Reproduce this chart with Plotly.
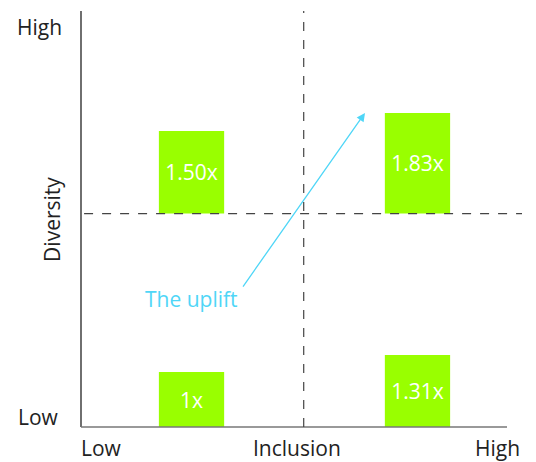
import plotly.graph_objects as go

# Quadrant bars: inclusion position (0-1), diversity base, uplift multiple
bar_x = [0.2506, 0.763, 0.2506, 0.763]
bar_base = [3.88, 3.88, 0.0, 0.0]
bar_value = [1.50, 1.83, 1.00, 1.31]
bar_labels = ["1.50x", "1.83x", "1x", "1.31x"]

y_tick_labels = ["Low", "High"]
x_tick_labels = ["Low", "Inclusion", "High"]

GREEN = "#99FF00"
CYAN = "#4FD6F7"
FONT = "Open Sans"
TXT = dict(size=21, family=FONT, color="#222222")

fig = go.Figure()
fig.add_trace(go.Bar(
    x=bar_x, y=bar_value, base=bar_base, width=0.148,
    marker=dict(color=GREEN, line=dict(width=0)),
    text=bar_labels, textposition="inside", insidetextanchor="middle",
    constraintext="none",
    textfont=dict(color="white", size=21, family=FONT),
    hoverinfo="skip", showlegend=False,
))

shapes = [
    # axis lines
    dict(type="line", xref="paper", yref="paper", x0=0, x1=0, y0=0, y1=1,
         line=dict(color="#222222", width=1.3)),
    dict(type="line", xref="paper", yref="paper", x0=0, x1=0.966, y0=0, y1=0,
         line=dict(color="#777777", width=1.3)),
    # quadrant dividers
    dict(type="line", xref="x", yref="paper", x0=0.505, x1=0.505, y0=0, y1=1,
         line=dict(color="#444444", width=1.2, dash="dash")),
    dict(type="line", xref="paper", yref="y", x0=0.007, x1=1, y0=3.88, y1=3.88,
         line=dict(color="#444444", width=1.2, dash="dash")),
]

def label(text, x, y, xanchor="center", angle=0):
    return dict(x=x, y=y, xref="paper", yref="paper", text=text, textangle=angle,
                xanchor=xanchor, yanchor="middle", showarrow=False, font=TXT)

annotations = [
    label(y_tick_labels[1], -0.095, 0.962),
    label(y_tick_labels[0], -0.096, 0.024),
    label("Diversity", -0.066, 0.5, angle=-90),
    label(x_tick_labels[0], -0.004, -0.051, xanchor="left"),
    label(x_tick_labels[1], 0.49, -0.051),
    label(x_tick_labels[2], 1.0, -0.051, xanchor="right"),
    # uplift arrow
    dict(x=0.644, y=5.71, ax=0.365, ay=2.527, xref="x", yref="y", axref="x", ayref="y",
         text="", showarrow=True, arrowhead=2, arrowsize=1.3, arrowwidth=1.3,
         arrowcolor=CYAN),
    dict(x=0.2506, y=2.33, xref="x", yref="y", text="The uplift", showarrow=False,
         font=dict(size=21, family=FONT, color=CYAN)),
]

fig.update_layout(
    width=536, height=462,
    margin=dict(l=81, r=14, t=11, b=35),
    plot_bgcolor="white", paper_bgcolor="white",
    xaxis=dict(range=[0, 1], visible=False, fixedrange=True),
    yaxis=dict(range=[0, 416 / 55], visible=False, fixedrange=True),
    shapes=shapes, annotations=annotations,
)

fig.write_html("out.html")
